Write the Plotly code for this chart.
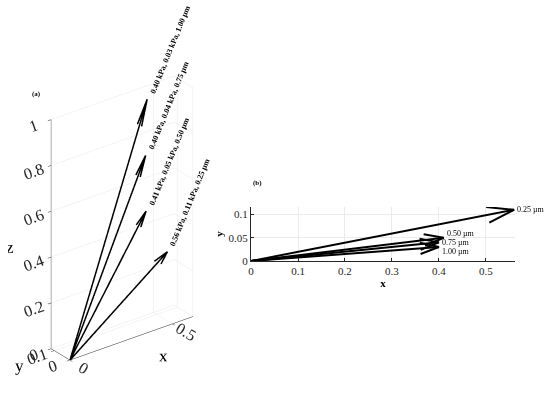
import plotly.graph_objects as go

# Resultant vectors per layer thickness: x and y components (kPa), z = thickness (um)
VX = [0.40, 0.40, 0.41, 0.56]
VY = [0.03, 0.04, 0.05, 0.11]
VZ = [1.00, 0.75, 0.50, 0.25]
FX_KPA = ['0.40', '0.40', '0.41', '0.56']
FY_KPA = ['0.03', '0.04', '0.05', '0.11']
THICKNESS = ['1.00', '0.75', '0.50', '0.25']

X_TICKS_3D = [0, 0.5]
Y_TICKS_3D = [0, 0.1]
Z_TICKS_3D = [0, 0.2, 0.4, 0.6, 0.8, 1]
X_TICKS_2D = [0, 0.1, 0.2, 0.3, 0.4, 0.5]
Y_TICKS_2D = [0, 0.05, 0.1]

FONT = 'Liberation Serif, Times New Roman, serif'
HEAD_LEN = 0.1     # head length as a fraction of the arrow
HEAD_WIDTH = 0.3   # half-width of the open head, relative to head length
LABEL_SHIFT_2D = [-4, 0, 4, 0]


def arrow_xy(u, v):
    """Shaft plus open V head (MATLAB quiver style) from the origin."""
    xs = [0, u, None,
          u - HEAD_LEN * (u + HEAD_WIDTH * v), u, u - HEAD_LEN * (u - HEAD_WIDTH * v)]
    ys = [0, v, None,
          v - HEAD_LEN * (v - HEAD_WIDTH * u), v, v - HEAD_LEN * (v + HEAD_WIDTH * u)]
    return xs, ys


def axis3d(title, rng, ticks):
    return dict(
        title=dict(text=title, font=dict(family=FONT, size=17, color='black')),
        range=rng,
        tickvals=ticks,
        ticktext=[f'{t:g}' for t in ticks],
        tickfont=dict(family=FONT, size=14, color='#262626'),
        showbackground=False,
        showgrid=True,
        gridcolor='#e8e8e8',
        gridwidth=1,
        showline=True,
        linecolor='#262626',
        linewidth=1,
        ticks='outside',
        ticklen=4,
        tickcolor='#262626',
        zeroline=False,
        showspikes=False,
        mirror=False,
    )


def axis2d(title, domain, rng, ticks):
    return dict(
        domain=domain, range=rng, automargin=False,
        tickvals=ticks, ticktext=[f'{t:g}' for t in ticks],
        tickfont=dict(family=FONT, size=11, color='#262626'),
        ticks='inside', ticklen=3, tickcolor='#262626',
        showline=True, linecolor='#262626', linewidth=1,
        showgrid=True, gridcolor='#ebebeb', zeroline=False,
        title=dict(text=f'<b>{title}</b>', font=dict(family=FONT, size=11), standoff=2),
    )


fig = go.Figure()

# (a) 3-D quiver
labels_3d = []
for u, v, w, fx, fy, t in zip(VX, VY, VZ, FX_KPA, FY_KPA, THICKNESS):
    xs, ys = arrow_xy(u, v)
    zs = [0, w, None, w - HEAD_LEN * w, w, w - HEAD_LEN * w]
    fig.add_trace(go.Scatter3d(
        x=xs, y=ys, z=zs, mode='lines',
        line=dict(color='black', width=3),
        hoverinfo='skip', showlegend=False,
    ))
    labels_3d.append(dict(
        x=u, y=v, z=w,
        text=f'<b>{fx} kPa, {fy} kPa, {t} µm</b>',
        showarrow=False, textangle=-68,
        xanchor='left', yanchor='bottom', xshift=-1, yshift=2,
        font=dict(family=FONT, size=8, color='black'),
    ))

# (b) x-y projection
for i, (u, v, t) in enumerate(zip(VX, VY, THICKNESS)):
    xs, ys = arrow_xy(u, v)
    fig.add_trace(go.Scatter(
        x=xs, y=ys, mode='lines',
        line=dict(color='black', width=2),
        hoverinfo='skip', showlegend=False,
    ))
    fig.add_annotation(
        x=u, y=v, xref='x', yref='y', text=f'{t} µm', showarrow=False,
        xanchor='left', yanchor='middle', xshift=1, yshift=LABEL_SHIFT_2D[i],
        font=dict(family=FONT, size=8, color='black'),
    )

fig.add_annotation(x=0.0545, y=0.7766, xref='paper', yref='paper', text='<b>(a)</b>',
                   showarrow=False, font=dict(family=FONT, size=7, color='black'))
fig.add_annotation(x=0.469, y=0.5355, xref='paper', yref='paper', text='<b>(b)</b>',
                   showarrow=False, font=dict(family=FONT, size=7, color='black'))

fig.update_layout(
    width=550, height=394,
    margin=dict(l=0, r=0, t=0, b=0),
    paper_bgcolor='white',
    plot_bgcolor='white',
    font=dict(family=FONT, color='black'),
    showlegend=False,
    scene=dict(
        domain=dict(x=[0.0145, 0.4284], y=[0, 0.9797]),
        xaxis=axis3d('x', [0, 0.6], X_TICKS_3D),
        yaxis=axis3d('y', [0, 0.12], Y_TICKS_3D),
        zaxis=axis3d('z', [0, 1], Z_TICKS_3D),
        aspectmode='manual',
        aspectratio=dict(x=0.8026, y=0.161, z=1.3376),
        camera=dict(
            eye=dict(x=-1.054, y=-1.374, z=1.0),
            up=dict(x=0, y=0, z=1),
            center=dict(x=0, y=0, z=0.1),
            projection=dict(type='orthographic'),
        ),
        annotations=labels_3d,
    ),
    xaxis=axis2d('x', [0.4564, 0.9364], [0, 0.562], X_TICKS_2D),
    yaxis=axis2d('y', [0.3376, 0.4746], [0, 0.116], Y_TICKS_2D),
)

# drop the default 8px body margin so the 550x394 figure fills the window
fig.write_html("out.html", config={'displayModeBar': False},
               post_script="document.body.style.margin = '0';")
